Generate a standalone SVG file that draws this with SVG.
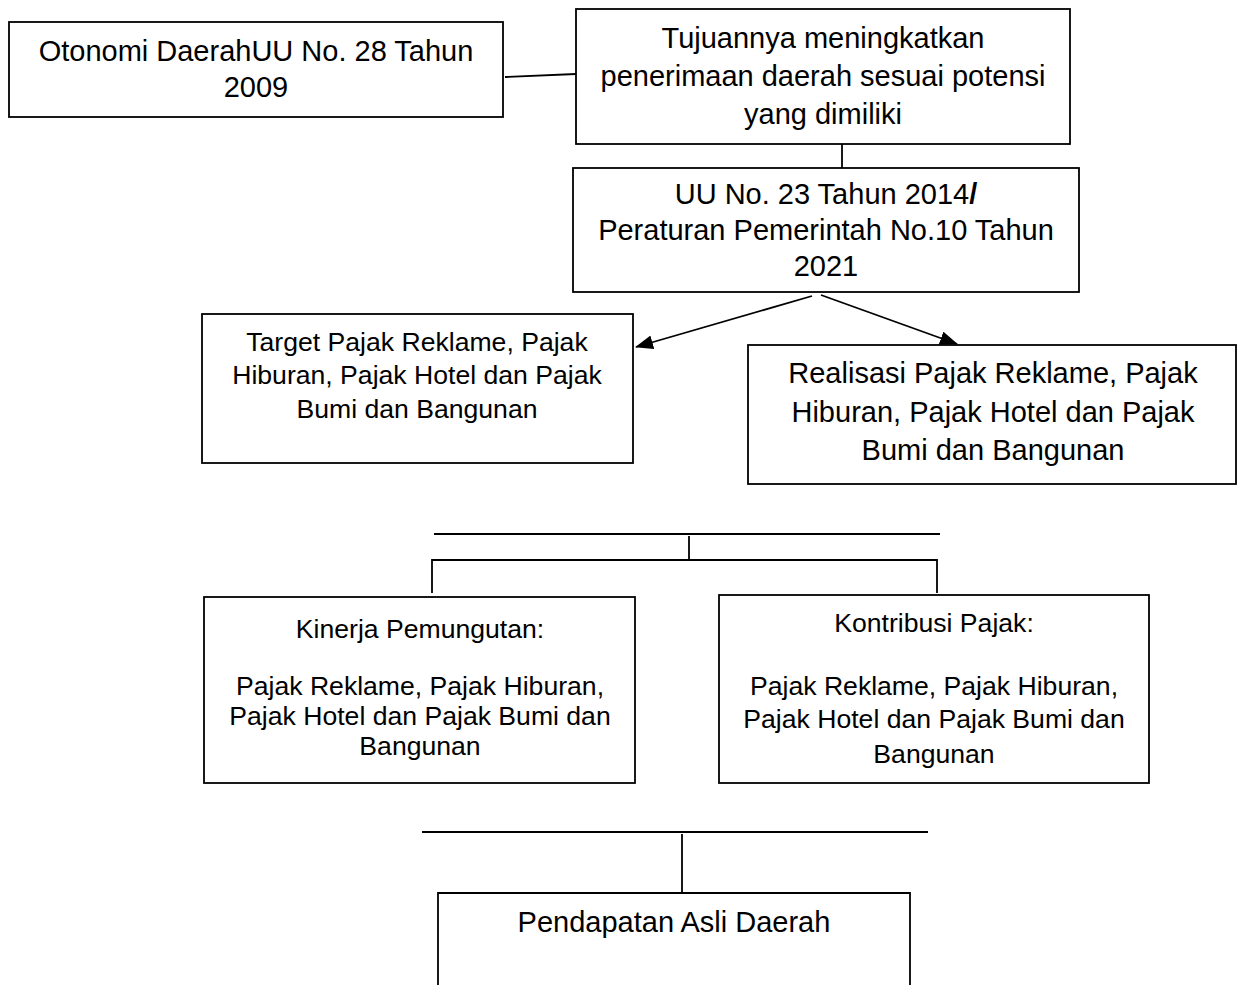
<svg xmlns="http://www.w3.org/2000/svg" width="1237" height="985" viewBox="0 0 1237 985">
<style>
.box{fill:#fff;stroke:#000;stroke-width:1.8}
.ln{fill:none;stroke:#000;stroke-width:1.8}
.t{font-family:"Liberation Sans",Arial,sans-serif;fill:#000;text-anchor:middle}
.l{font-size:29px}
.s{font-size:26.6px}
</style>
<defs>
<marker id="arr" markerUnits="userSpaceOnUse" markerWidth="18" markerHeight="14" viewBox="0 0 18 14" refX="17" refY="7" orient="auto">
<path d="M0,0 L18,7 L0,14 z" fill="#000"/>
</marker>
</defs>
<g id="connectors">
<line class="ln" x1="505" y1="77" x2="576" y2="74"/>
<line class="ln" x1="842" y1="144" x2="842" y2="168"/>
<line class="ln" x1="812" y1="296" x2="636" y2="347" marker-end="url(#arr)"/>
<line class="ln" x1="821" y1="295" x2="957" y2="344" marker-end="url(#arr)"/>
<line class="ln" x1="434" y1="534" x2="940" y2="534"/>
<line class="ln" x1="689" y1="536" x2="689" y2="560"/>
<polyline class="ln" points="432,593 432,560 937,560 937,593"/>
<line class="ln" x1="422" y1="832" x2="928" y2="832"/>
<line class="ln" x1="682" y1="834" x2="682" y2="892"/>
</g>
<g id="n1">
<rect class="box" x="9" y="22" width="494" height="95"/>
<text class="t l" x="256" y="61">Otonomi DaerahUU No. 28 Tahun</text>
<text class="t l" x="256" y="97">2009</text>
</g>
<g id="n2">
<rect class="box" x="576" y="9" width="494" height="135"/>
<text class="t l" x="823" y="48">Tujuannya meningkatkan</text>
<text class="t l" x="823" y="86">penerimaan daerah sesuai potensi</text>
<text class="t l" x="823" y="124">yang dimiliki</text>
</g>
<g id="n3">
<rect class="box" x="573" y="168" width="506" height="124"/>
<text class="t l" x="826" y="204">UU No. 23 Tahun 2014<tspan font-weight="bold">/</tspan></text>
<text class="t l" x="826" y="240">Peraturan Pemerintah No.10 Tahun</text>
<text class="t l" x="826" y="276">2021</text>
</g>
<g id="n4">
<rect class="box" x="202" y="314" width="431" height="149"/>
<text class="t s" x="417" y="351">Target Pajak Reklame, Pajak</text>
<text class="t s" x="417" y="384">Hiburan, Pajak Hotel dan Pajak</text>
<text class="t s" x="417" y="418">Bumi dan Bangunan</text>
</g>
<g id="n5">
<rect class="box" x="748" y="345" width="488" height="139"/>
<text class="t l" x="993" y="383">Realisasi Pajak Reklame, Pajak</text>
<text class="t l" x="993" y="422">Hiburan, Pajak Hotel dan Pajak</text>
<text class="t l" x="993" y="460">Bumi dan Bangunan</text>
</g>
<g id="n6">
<rect class="box" x="204" y="597" width="431" height="186"/>
<text class="t s" x="420" y="638">Kinerja Pemungutan:</text>
<text class="t s" x="420" y="695">Pajak Reklame, Pajak Hiburan,</text>
<text class="t s" x="420" y="725">Pajak Hotel dan Pajak Bumi dan</text>
<text class="t s" x="420" y="755">Bangunan</text>
</g>
<g id="n7">
<rect class="box" x="719" y="595" width="430" height="188"/>
<text class="t s" x="934" y="632">Kontribusi Pajak:</text>
<text class="t s" x="934" y="695">Pajak Reklame, Pajak Hiburan,</text>
<text class="t s" x="934" y="728">Pajak Hotel dan Pajak Bumi dan</text>
<text class="t s" x="934" y="763">Bangunan</text>
</g>
<g id="n8">
<path class="ln" d="M438,990 L438,893 L910,893 L910,990"/>
<text class="t l" x="674" y="932">Pendapatan Asli Daerah</text>
</g>
</svg>
